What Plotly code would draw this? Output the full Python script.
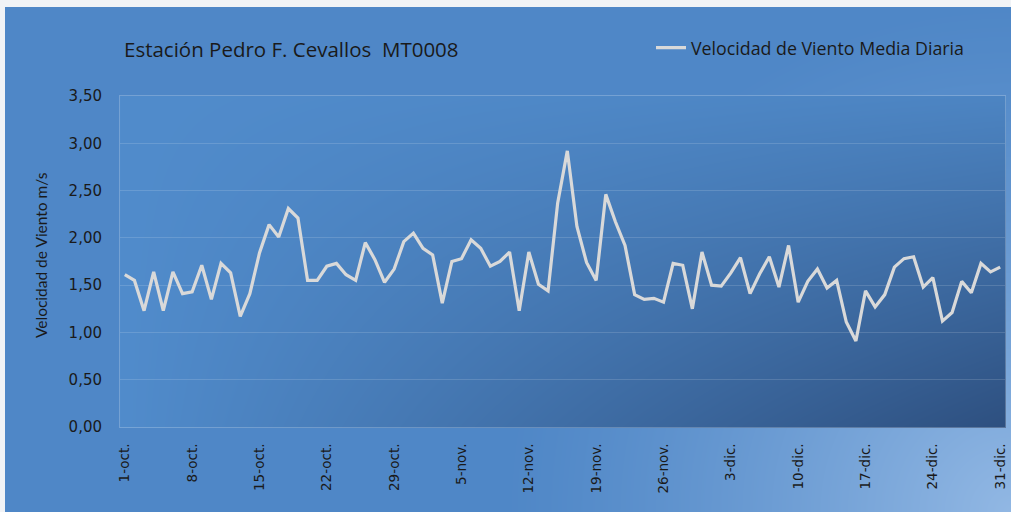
import base64
import struct
import zlib

import numpy as np
import pandas as pd
import plotly.graph_objects as go

# ---------------- data ----------------
dates = pd.date_range("2013-10-01", "2013-12-31", freq="D")
oct_vals = [1.61, 1.55, 1.23, 1.64, 1.23, 1.64, 1.41, 1.43, 1.71, 1.35, 1.73, 1.63, 1.17, 1.41, 1.84,
            2.14, 2.01, 2.31, 2.21, 1.55, 1.55, 1.70, 1.73, 1.61, 1.55, 1.95, 1.77, 1.53, 1.67, 1.96, 2.05]
nov_vals = [1.89, 1.82, 1.31, 1.75, 1.78, 1.98, 1.89, 1.70, 1.75, 1.85, 1.23, 1.85, 1.51, 1.44, 2.37,
            2.92, 2.12, 1.74, 1.55, 2.46, 2.17, 1.92, 1.40, 1.35, 1.36, 1.32, 1.73, 1.71, 1.25, 1.85]
dic_vals = [1.50, 1.49, 1.63, 1.79, 1.41, 1.62, 1.80, 1.48, 1.92, 1.32, 1.54, 1.67, 1.47, 1.55, 1.11,
            0.91, 1.44, 1.27, 1.40, 1.69, 1.78, 1.80, 1.48, 1.58, 1.12, 1.21, 1.54, 1.42, 1.73, 1.64, 1.69]
wind = oct_vals + nov_vals + dic_vals

tick_dates = pd.date_range("2013-10-01", "2013-12-31", freq="7D")
tick_labels = ["1-oct.", "8-oct.", "15-oct.", "22-oct.", "29-oct.", "5-nov.", "12-nov.",
               "19-nov.", "26-nov.", "3-dic.", "10-dic.", "17-dic.", "24-dic.", "31-dic."]
y_ticks = [0, 0.5, 1.0, 1.5, 2.0, 2.5, 3.0, 3.5]

series_name = "Velocidad de Viento Media Diaria"
title_text = "Estación Pedro F. Cevallos  MT0008"
ytitle_text = "Velocidad de Viento m/s"

# ---------------- layout geometry (pixels) ----------------
W, H = 1011, 512
PL, PR, PT, PB = 120, 1005, 96, 427


def make_background():
    yy, xx = np.mgrid[0:H, 0:W].astype(float)
    img = np.zeros((H, W, 3))
    img[:] = np.array([241, 243, 246])
    # chart area
    base = np.array([79, 135, 199])
    light = np.array([146, 184, 228])
    d = np.sqrt((xx - W) ** 2 + (yy - H) ** 2)
    t = np.clip(1 - d / 520.0, 0, 1) ** 1.3
    chart = base[None, None, :] * (1 - t[..., None]) + light[None, None, :] * t[..., None]
    mask = (xx >= 5) & (yy >= 7)
    img[mask] = chart[mask]
    # plot area
    p_light = np.array([81, 140, 204])
    p_dark = np.array([46, 80, 128])
    u = np.clip((xx - PL) / (PR - PL), 0, 1)
    v = np.clip((yy - PT) / (PB - PT), 0, 1)
    tp = 0.12 * u + 0.88 * (u * v)
    plot = p_light[None, None, :] * (1 - tp[..., None]) + p_dark[None, None, :] * tp[..., None]
    pmask = (xx >= PL) & (xx <= PR) & (yy >= PT) & (yy <= PB)
    img[pmask] = plot[pmask]
    img = np.clip(img, 0, 255).astype(np.uint8)
    raw = b"".join(b"\x00" + img[r].tobytes() for r in range(H))

    def chunk(tag, data):
        c = struct.pack(">I", len(data)) + tag + data
        return c + struct.pack(">I", zlib.crc32(tag + data) & 0xFFFFFFFF)

    png = b"\x89PNG\r\n\x1a\n"
    png += chunk(b"IHDR", struct.pack(">IIBBBBB", W, H, 8, 2, 0, 0, 0))
    png += chunk(b"IDAT", zlib.compress(raw, 9))
    png += chunk(b"IEND", b"")
    return "data:image/png;base64," + base64.b64encode(png).decode()


fig = go.Figure()
fig.add_trace(go.Scatter(
    x=dates, y=wind, mode="lines", name=series_name,
    line=dict(color="#d9d9d9", width=3.2),
))

axis_line = "rgba(255,255,255,0.22)"
fig.update_layout(
    width=W, height=H,
    margin=dict(l=0, r=0, t=0, b=0),
    paper_bgcolor="#4f87c7",
    plot_bgcolor="rgba(0,0,0,0)",
    separators=",.",
    showlegend=True,
    legend=dict(
        x=(692 - 41) / W, y=(H - 48) / H, xanchor="left", yanchor="middle",
        bgcolor="rgba(0,0,0,0)", font=dict(family="Open Sans", size=17.8, color="#1a1a1a"),
        itemwidth=30,
    ),
    xaxis=dict(
        domain=[PL / W, PR / W],
        range=[pd.Timestamp("2013-09-30 12:00"), pd.Timestamp("2013-12-31 12:00")],
        tickvals=tick_dates, ticktext=tick_labels, tickangle=-90,
        tickfont=dict(family="DejaVu Sans", size=13.5, color="#1a1a1a"),
        showgrid=False, showline=True, linecolor=axis_line, mirror=True,
        ticks="", ticklabelstandoff=10, automargin=False,
    ),
    yaxis=dict(
        domain=[(H - PB) / H, (H - PT) / H],
        range=[0, 3.5], tickvals=y_ticks, tickformat=".2f",
        tickfont=dict(family="DejaVu Sans", size=15, color="#1a1a1a"),
        showgrid=True, gridcolor="rgba(255,255,255,0.14)", gridwidth=1,
        showline=True, linecolor=axis_line, mirror=True, zeroline=False,
        ticks="", ticklabelstandoff=14, automargin=False,
    ),
    images=[dict(
        source=make_background(), xref="paper", yref="paper", x=0, y=1,
        sizex=1, sizey=1, sizing="stretch", xanchor="left", yanchor="top", layer="below",
    )],
    annotations=[
        dict(text=title_text, xref="paper", yref="paper", x=122 / W, y=(H - 49) / H,
             xanchor="left", yanchor="middle", showarrow=False,
             font=dict(family="Open Sans", size=20.5, color="#1a1a1a")),
        dict(text=ytitle_text, xref="paper", yref="paper", x=41 / W, y=(H - 255) / H,
             xanchor="center", yanchor="middle", showarrow=False, textangle=-90,
             font=dict(family="Lato", size=15.5, color="#1a1a1a")),
    ],
)

fig.write_html(
    "out.html",
    config={"displayModeBar": False},
    post_script="document.body.style.margin='0';document.body.style.overflow='hidden';",
)
